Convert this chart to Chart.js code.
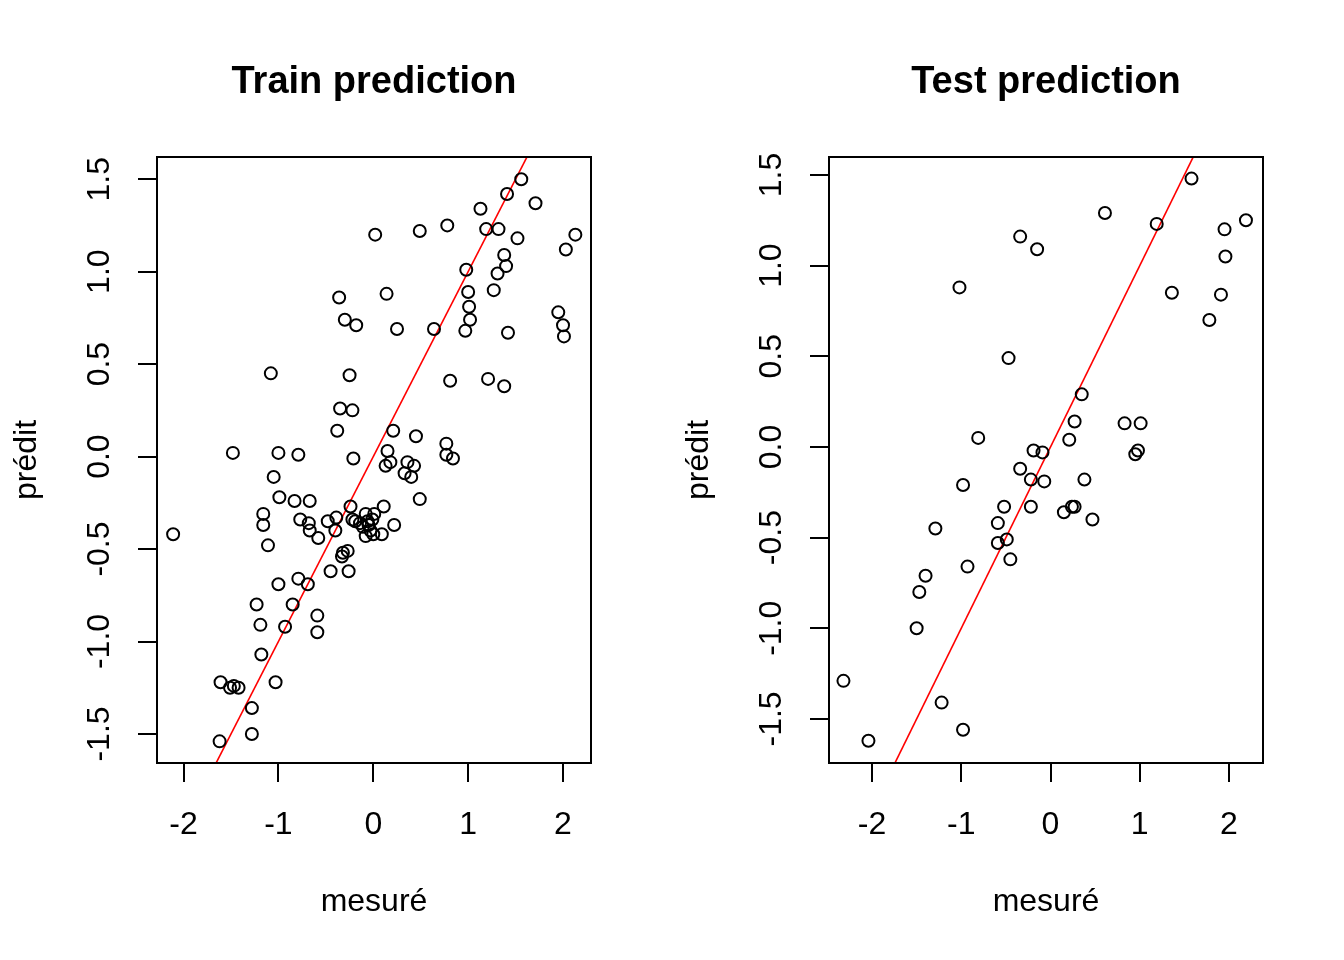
<!DOCTYPE html>
<html>
<head>
<meta charset="utf-8">
<script src="https://cdn.jsdelivr.net/npm/chart.js@4.4.1/dist/chart.umd.min.js"></script>
<style>
    html, body { margin: 0; padding: 0; background: #fff; }
    #wrap { position: relative; width: 1344px; height: 960px; }
    canvas { position: absolute; top: 0; }
</style>
</head>
<body>
<div id="wrap">
    <canvas id="train" width="672" height="960" style="left:0"></canvas>
    <canvas id="test" width="672" height="960" style="left:672px"></canvas>
</div>
<script>
const xTicks = [-2, -1, 0, 1, 2];
const xTickLabels = ['-2', '-1', '0', '1', '2'];
const yTicks = [-1.5, -1.0, -0.5, 0.0, 0.5, 1.0, 1.5];
const yTickLabels = ['-1.5', '-1.0', '-0.5', '0.0', '0.5', '1.0', '1.5'];

// mesuré / prédit, train set
const trainMeasured = [
    -0.36, -0.30, -0.18, 0.02, 1.56, 1.41, 1.71, 1.13, 0.78, 0.49,
    1.19, 1.32, 2.13, 1.52, 2.03, 1.38, 1.40, 0.98, 1.31, 0.14,
    1.00, 1.27, 1.01, 1.02, 1.95, 2.00, 2.01, 0.25, 0.64, 0.97,
    1.42, -1.08, -0.25, -0.35, -0.22, -0.38, -1.48, -1.00, -0.79, -0.21,
    -1.05, -0.99, -0.83, -0.67, -1.16, -1.16, -0.77, -0.68, -0.67, -0.58,
    -0.48, -0.39, -0.40, -0.24, -2.11, -1.11, 0.81, 1.21, 1.38, 0.21,
    0.45, 0.77, 0.77, 0.84, 0.15, 0.18, 0.13, 0.36, 0.43, 0.33,
    0.40, 0.49, 0.11, 0.22, 0.09, -0.22, -0.19, -0.14, -0.08, 0.01,
    -0.01, -0.05, -0.11, -0.03, -0.08, 0.00, -0.06, -0.32, -0.27, -0.33,
    -0.45, -0.26, -1.00, -0.79, -0.69, -1.23, -0.85, -0.59, -0.59, -1.19,
    -0.93, -1.18, -1.61, -1.51, -1.47, -1.42, -1.03, -1.28, -1.28, -1.62,
];
const trainPredicted = [
    0.86, 0.74, 0.71, 1.20, 1.50, 1.42, 1.37, 1.34, 1.25, 1.22,
    1.23, 1.23, 1.20, 1.18, 1.12, 1.09, 1.03, 1.01, 0.99, 0.88,
    0.89, 0.90, 0.81, 0.74, 0.78, 0.71, 0.65, 0.69, 0.69, 0.68,
    0.67, 0.45, 0.44, 0.26, 0.25, 0.14, 0.02, 0.02, 0.01, -0.01,
    -0.11, -0.22, -0.24, -0.24, -0.31, -0.37, -0.34, -0.36, -0.40, -0.44,
    -0.35, -0.33, -0.40, -0.27, -0.42, -0.48, 0.41, 0.42, 0.38, 0.14,
    0.11, 0.07, 0.01, -0.01, 0.03, -0.03, -0.05, -0.03, -0.05, -0.09,
    -0.11, -0.23, -0.27, -0.37, -0.42, -0.34, -0.35, -0.36, -0.31, -0.31,
    -0.34, -0.37, -0.38, -0.40, -0.43, -0.42, -0.35, -0.52, -0.51, -0.54,
    -0.62, -0.62, -0.69, -0.66, -0.69, -0.80, -0.80, -0.86, -0.95, -0.91,
    -0.92, -1.07, -1.22, -1.25, -1.24, -1.25, -1.22, -1.36, -1.50, -1.54,
];

// mesuré / prédit, test set
const testMeasured = [
    -0.34, -0.15, -1.02, -0.47, -0.81, -0.19, -0.09, 1.58, 0.61, 1.19,
    2.19, 1.95, 1.96, 1.36, 1.91, 1.78, 0.35, 0.27, 0.83, 1.01,
    0.21, 0.98, 0.95, -0.34, -0.22, -0.07, -0.98, -0.52, -0.22, -1.29,
    -0.59, -0.49, -0.59, -0.45, -0.93, -1.40, -1.47, -1.50, -2.32, -1.22,
    -0.98, -2.04, 0.38, 0.15, 0.24, 0.27, 0.47,
];
const testPredicted = [
    1.16, 1.09, 0.88, 0.49, 0.05, -0.02, -0.03, 1.48, 1.29, 1.23,
    1.25, 1.20, 1.05, 0.85, 0.84, 0.70, 0.29, 0.14, 0.13, 0.13,
    0.04, -0.02, -0.04, -0.12, -0.18, -0.19, -0.21, -0.33, -0.33, -0.45,
    -0.42, -0.51, -0.53, -0.62, -0.66, -0.71, -0.80, -1.00, -1.29, -1.41,
    -1.56, -1.62, -0.18, -0.36, -0.33, -0.33, -0.40,
];

// abline(0, 1)
const refIntercept = 0;
const refSlope = 1;

const FONT_FAMILY = '"Liberation Sans", Arial, Helvetica, sans-serif';

const framePlugin = {
    id: 'frame',
    afterDraw(chart, args, opts) {
        const { ctx, chartArea } = chart;
        ctx.save();
        ctx.strokeStyle = '#000';
        ctx.lineWidth = 2;
        ctx.strokeRect(chartArea.left, chartArea.top, chartArea.right - chartArea.left, chartArea.bottom - chartArea.top);
        ctx.fillStyle = '#000';
        ctx.font = `bold 38px ${FONT_FAMILY}`;
        ctx.textAlign = 'center';
        ctx.textBaseline = 'middle';
        ctx.fillText(opts.text, (chartArea.left + chartArea.right) / 2, 83);
        ctx.restore();
    },
};

function toPoints(xs, ys) {
    return xs.map((x, i) => ({ x, y: ys[i] }));
}

function buildScatter(canvasId, title, xs, ys, xRange, yRange) {
    const canvas = document.getElementById(canvasId);

    if (!(canvas instanceof HTMLCanvasElement)) {
        return;
    }

    const lineData = xRange.map((x) => ({ x, y: refIntercept + refSlope * x }));

    const axisGrid = {
        drawOnChartArea: false,
        drawTicks: true,
        tickLength: 19,
        color: '#000',
        lineWidth: 2,
    };

    new Chart(canvas.getContext('2d'), {
        type: 'scatter',
        data: {
            datasets: [
                {
                    data: toPoints(xs, ys),
                    pointStyle: 'circle',
                    pointRadius: 6,
                    pointBorderWidth: 2,
                    pointBorderColor: '#000',
                    pointBackgroundColor: 'rgba(0,0,0,0)',
                    showLine: false,
                },
                {
                    type: 'line',
                    data: lineData,
                    borderColor: '#ff0000',
                    borderWidth: 1.6,
                    pointRadius: 0,
                    fill: false,
                },
            ],
        },
        options: {
            responsive: false,
            animation: false,
            layout: {
                padding: { top: 157, right: 81, left: 0, bottom: 0 },
            },
            plugins: {
                legend: false,
                tooltip: false,
                frame: { text: title },
            },
            scales: {
                x: {
                    type: 'linear',
                    min: xRange[0],
                    max: xRange[1],
                    afterBuildTicks(scale) {
                        scale.ticks = xTicks.map((value) => ({ value }));
                    },
                    afterFit(scale) {
                        scale.height = 197;
                    },
                    grid: axisGrid,
                    border: { display: true, color: '#000', width: 2 },
                    ticks: {
                        color: '#000',
                        font: { size: 32, family: FONT_FAMILY },
                        padding: 24,
                        maxRotation: 0,
                        autoSkip: false,
                        callback: (value, index) => xTickLabels[index],
                    },
                    title: {
                        display: true,
                        text: 'mesuré',
                        color: '#000',
                        font: { size: 32, family: FONT_FAMILY },
                        padding: { top: 0, bottom: 39 },
                    },
                },
                y: {
                    type: 'linear',
                    min: yRange[0],
                    max: yRange[1],
                    afterBuildTicks(scale) {
                        scale.ticks = yTicks.map((value) => ({ value }));
                    },
                    afterFit(scale) {
                        scale.width = 157;
                    },
                    grid: axisGrid,
                    border: { display: true, color: '#000', width: 2 },
                    ticks: {
                        color: '#000',
                        font: { size: 32, family: FONT_FAMILY },
                        padding: 10,
                        minRotation: 90,
                        maxRotation: 90,
                        crossAlign: 'center',
                        autoSkip: false,
                        callback: (value, index) => yTickLabels[index],
                    },
                    title: {
                        display: true,
                        text: 'prédit',
                        color: '#000',
                        font: { size: 32, family: FONT_FAMILY },
                        padding: { top: 8, bottom: 0 },
                    },
                },
            },
        },
        plugins: [framePlugin],
    });
}

buildScatter('train', 'Train prediction', trainMeasured, trainPredicted, [-2.28, 2.295], [-1.657, 1.62]);
buildScatter('test', 'Test prediction', testMeasured, testPredicted, [-2.482, 2.381], [-1.743, 1.599]);
</script>
</body>
</html>
